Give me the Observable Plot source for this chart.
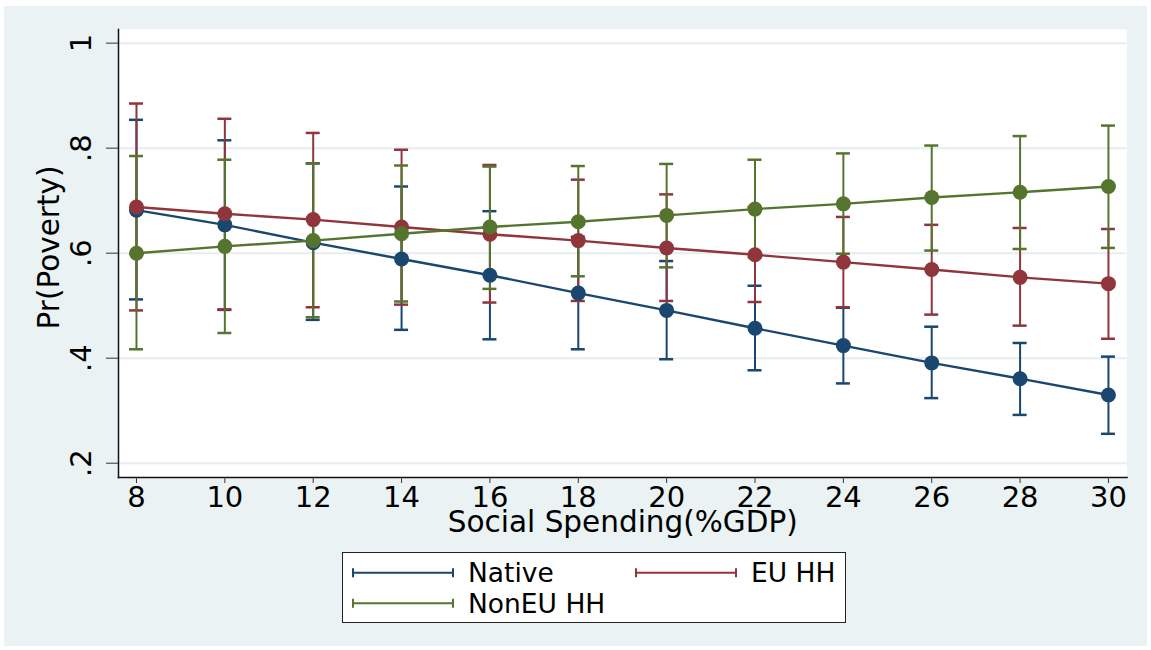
<!DOCTYPE html>
<html>
<head>
<meta charset="utf-8">
<script src="https://cdn.jsdelivr.net/npm/d3@7"></script>
<script src="https://cdn.jsdelivr.net/npm/@observablehq/plot@0.6"></script>
<style>
  html, body { margin: 0; padding: 0; background: #ffffff; width: 1151px; height: 650px; overflow: hidden; font-family: "DejaVu Sans", sans-serif; }
  #bg { position: absolute; left: 4px; top: 6px; width: 1143px; height: 640px; background: #eaf2f3; }
  #chart { position: absolute; left: 0; top: 0; }
  #legend { position: absolute; left: 338px; top: 546px; width: 502px; height: 69px; background: #fff; border: 1px solid #222; }
  #legend svg { position: absolute; left: 0; top: 0; }
</style>
</head>
<body>
<div id="bg">
  <div id="chart"></div>
  <div id="legend"></div>
</div>
<script>
// ---- data ----
const spending = [8, 10, 12, 14, 16, 18, 20, 22, 24, 26, 28, 30];
const series = ["Native", "EU HH", "NonEU HH"];
const colors = ["#1a476f", "#90353b", "#55752f"];

const nativeP  = [0.682, 0.654, 0.620, 0.589, 0.558, 0.524, 0.491, 0.457, 0.424, 0.391, 0.361, 0.330];
const nativeLo = [0.512, 0.492, 0.473, 0.454, 0.436, 0.417, 0.398, 0.377, 0.352, 0.324, 0.292, 0.256];
const nativeHi = [0.854, 0.815, 0.771, 0.727, 0.680, 0.631, 0.585, 0.538, 0.496, 0.460, 0.429, 0.403];

const euP  = [0.688, 0.675, 0.664, 0.650, 0.636, 0.624, 0.610, 0.597, 0.583, 0.569, 0.554, 0.542];
const euLo = [0.491, 0.493, 0.497, 0.502, 0.506, 0.509, 0.509, 0.507, 0.497, 0.483, 0.462, 0.437];
const euHi = [0.885, 0.856, 0.829, 0.797, 0.768, 0.740, 0.712, 0.688, 0.669, 0.654, 0.648, 0.646];

const nonEuP  = [0.600, 0.613, 0.624, 0.637, 0.650, 0.660, 0.672, 0.684, 0.694, 0.706, 0.716, 0.727];
const nonEuLo = [0.417, 0.448, 0.478, 0.508, 0.532, 0.556, 0.573, 0.592, 0.599, 0.605, 0.608, 0.610];
const nonEuHi = [0.785, 0.778, 0.771, 0.767, 0.765, 0.766, 0.770, 0.778, 0.790, 0.805, 0.823, 0.843];

const yTicks = [0.2, 0.4, 0.6, 0.8, 1];
const yTickLabels = [".2", ".4", ".6", ".8", "1"];
const xTitle = "Social Spending(%GDP)";
const yTitle = "Pr(Poverty)";

// ---- build table ----
const valueSets = [
  [nativeP, nativeLo, nativeHi],
  [euP, euLo, euHi],
  [nonEuP, nonEuLo, nonEuHi]
];
const rows = [];
series.forEach((s, si) => {
  spending.forEach((x, i) => {
    rows.push({series: s, x, p: valueSets[si][0][i], lo: valueSets[si][1][i], hi: valueSets[si][2][i]});
  });
});
const yTickRows = yTicks.map((v, i) => ({v, label: yTickLabels[i]}));

const ciMarks = [];
series.forEach(s => {
  const d = rows.filter(r => r.series === s);
  ciMarks.push(
    Plot.ruleX(d, {x: "x", y1: "lo", y2: "hi", stroke: "series", strokeWidth: 2}),
    Plot.ruleY(d, {y: "hi", x1: "x", x2: "x", insetLeft: -7, insetRight: -7, stroke: "series", strokeWidth: 2.5}),
    Plot.ruleY(d, {y: "lo", x1: "x", x2: "x", insetLeft: -7, insetRight: -7, stroke: "series", strokeWidth: 2.5})
  );
});
const lineMarks = [];
series.forEach(s => {
  const d = rows.filter(r => r.series === s);
  lineMarks.push(
    Plot.line(d, {x: "x", y: "p", stroke: "series", strokeWidth: 2.4}),
    Plot.dot(d, {x: "x", y: "p", fill: "series", r: 7.5, stroke: "none"})
  );
});

const chart = Plot.plot({
  width: 1143,
  height: 530,
  marginLeft: 114,
  marginRight: 20.5,
  marginTop: 23,
  marginBottom: 59,
  style: {fontFamily: "DejaVu Sans", background: "transparent", color: "#000", overflow: "visible"},
  x: {domain: [7.593, 30.42], axis: null},
  y: {domain: [0.1728, 1.026], axis: null},
  color: {domain: series, range: colors},
  marks: [
    Plot.frame({fill: "#ffffff", stroke: "none"}),
    Plot.ruleY(yTicks, {stroke: "#e6eef0", strokeWidth: 2}),
    ...ciMarks,
    ...lineMarks,
    Plot.frame({anchor: "left", stroke: "#111", strokeWidth: 1.5}),
    Plot.frame({anchor: "bottom", stroke: "#111", strokeWidth: 1.5}),
    Plot.axisX({ticks: spending, tickSize: 6, tickPadding: 3, fontSize: 29, label: null, tickFormat: d => String(d), stroke: "#333", fill: "#000"}),
    Plot.axisY({ticks: yTicks, tickSize: 12, tickFormat: () => "", label: null, stroke: "#333"}),
    Plot.text(yTickRows, {y: "v", text: "label", frameAnchor: "left", textAnchor: "middle", dx: -37, rotate: -90, fontSize: 29, fill: "#000"}),
    Plot.text([yTitle], {text: d => d, frameAnchor: "left", textAnchor: "middle", dx: -69, dy: -6, rotate: -90, fontSize: 29.5, fill: "#000"}),
    Plot.text([xTitle], {text: d => d, frameAnchor: "bottom", dy: 34, lineAnchor: "top", fontSize: 29.5, fill: "#000"})
  ]
});
document.getElementById("chart").appendChild(chart);

// ---- legend ----
const legendItems = [
  {name: series[0], color: colors[0], lx: 10, ty: 19.7},
  {name: series[1], color: colors[1], lx: 293, ty: 19.7},
  {name: series[2], color: colors[2], lx: 10, ty: 50.3}
];
const ns = "http://www.w3.org/2000/svg";
const lsvg = document.createElementNS(ns, "svg");
lsvg.setAttribute("width", 502);
lsvg.setAttribute("height", 69);
legendItems.forEach(it => {
  const mk = (tag, attrs) => { const e = document.createElementNS(ns, tag); for (const k in attrs) e.setAttribute(k, attrs[k]); lsvg.appendChild(e); return e; };
  mk("line", {x1: it.lx, x2: it.lx + 100, y1: it.ty, y2: it.ty, stroke: it.color, "stroke-width": 2});
  mk("line", {x1: it.lx, x2: it.lx, y1: it.ty - 4.5, y2: it.ty + 4.5, stroke: it.color, "stroke-width": 2});
  mk("line", {x1: it.lx + 100, x2: it.lx + 100, y1: it.ty - 4.5, y2: it.ty + 4.5, stroke: it.color, "stroke-width": 2});
  const t = mk("text", {x: it.lx + 115, y: it.ty, "dominant-baseline": "central", "font-size": 26.5, "font-family": "DejaVu Sans", fill: "#000"});
  t.textContent = it.name;
});
document.getElementById("legend").appendChild(lsvg);
</script>
</body>
</html>
